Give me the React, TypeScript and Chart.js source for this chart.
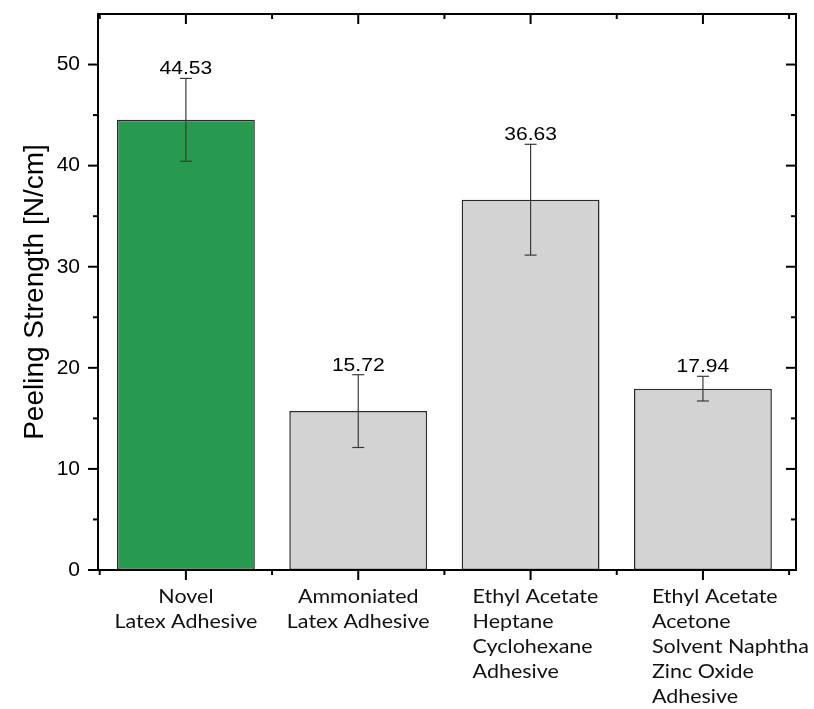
import { useEffect, useRef } from 'react';
import { Chart, registerables } from 'chart.js';

Chart.register(...registerables);

// ---- data ----
const categoryLines: string[][] = [
  ['Novel', 'Latex Adhesive'],
  ['Ammoniated', 'Latex Adhesive'],
  ['Ethyl Acetate', 'Heptane', 'Cyclohexane', 'Adhesive'],
  ['Ethyl Acetate', 'Acetone', 'Solvent Naphtha', 'Zinc Oxide', 'Adhesive'],
];
const categoryPositions = [1, 2, 3, 4];
const peelingStrength = [44.53, 15.72, 36.63, 17.94];
const errorValues = [4.1, 3.6, 5.48, 1.22];
const valueLabels = ['44.53', '15.72', '36.63', '17.94'];
const yTickValues = [0, 10, 20, 30, 40, 50];
const yMinorTickValues = [5, 15, 25, 35, 45];
const xMinorTickValues = [0.5, 1.5, 2.5, 3.5, 4.5];

// ---- styles ----
const barColors = ['#289a4f', '#d3d3d3', '#d3d3d3', '#d3d3d3'];
const labelAnchor: (string | number)[] = ['center', 'center', -58, -51];
const SANS = '"Liberation Sans", Arial, sans-serif';
const LABEL_FONT = '19px Lato, "Noto Sans", sans-serif';
const H_STRETCH_LABEL = 1.13;
const H_STRETCH_VALUE = 1.17;

const line = (ctx: CanvasRenderingContext2D, x1: number, y1: number, x2: number, y2: number) => {
  ctx.beginPath();
  ctx.moveTo(x1, y1);
  ctx.lineTo(x2, y2);
  ctx.stroke();
};

const stretchedText = (
  ctx: CanvasRenderingContext2D,
  text: string,
  x: number,
  y: number,
  sx: number,
  align: CanvasTextAlign
) => {
  ctx.save();
  ctx.translate(x, y);
  ctx.scale(sx, 1);
  ctx.textAlign = align;
  ctx.fillText(text, 0, 0);
  ctx.restore();
};

const errorBarPlugin = {
  id: 'errorBars',
  afterDatasetsDraw(chart: any) {
    const { ctx, scales } = chart;
    const x = scales.x;
    const y = scales.y;
    ctx.save();
    ctx.strokeStyle = '#3a3a3a';
    ctx.lineWidth = 1.2;
    peelingStrength.forEach((v, i) => {
      const px = x.getPixelForValue(categoryPositions[i]);
      const top = y.getPixelForValue(v + errorValues[i]);
      const bot = y.getPixelForValue(v - errorValues[i]);
      line(ctx, px, top, px, bot);
      line(ctx, px - 6, top, px + 6, top);
      line(ctx, px - 6, bot, px + 6, bot);
      ctx.fillStyle = '#000';
      ctx.font = '18px ' + SANS;
      ctx.textBaseline = 'alphabetic';
      stretchedText(ctx, valueLabels[i], px, top - 4, H_STRETCH_VALUE, 'center');
    });
    ctx.restore();
  },
};

const framePlugin = {
  id: 'frame',
  afterDraw(chart: any) {
    const { ctx, chartArea: a, scales } = chart;
    const x = scales.x;
    const y = scales.y;
    ctx.save();
    ctx.strokeStyle = '#000';
    ctx.lineWidth = 2;
    ctx.strokeRect(a.left, a.top, a.right - a.left, a.bottom - a.top);
    yTickValues.forEach((v) => {
      const py = y.getPixelForValue(v);
      line(ctx, a.left - 10, py, a.left, py);
      line(ctx, a.right - 10, py, a.right, py);
    });
    yMinorTickValues.forEach((v) => {
      const py = y.getPixelForValue(v);
      line(ctx, a.left - 5, py, a.left, py);
      line(ctx, a.right - 5, py, a.right, py);
    });
    categoryPositions.forEach((v) => {
      const px = x.getPixelForValue(v);
      line(ctx, px, a.bottom, px, a.bottom + 10);
      line(ctx, px, a.top, px, a.top + 10);
    });
    xMinorTickValues.forEach((v) => {
      const px = x.getPixelForValue(v);
      line(ctx, px, a.bottom, px, a.bottom + 5);
      line(ctx, px, a.top, px, a.top + 5);
    });

    // category labels
    ctx.fillStyle = '#111';
    ctx.font = LABEL_FONT;
    ctx.textBaseline = 'alphabetic';
    categoryLines.forEach((lines, i) => {
      const px = x.getPixelForValue(categoryPositions[i]);
      const anchor = labelAnchor[i];
      lines.forEach((t, j) => {
        const py = a.bottom + 33 + j * 25;
        if (anchor === 'center') {
          stretchedText(ctx, t, px, py, H_STRETCH_LABEL, 'center');
        } else {
          stretchedText(ctx, t, px + (anchor as number), py, H_STRETCH_LABEL, 'left');
        }
      });
    });
    ctx.restore();
  },
};

export default function App() {
  const ref = useRef<HTMLCanvasElement>(null);
  useEffect(() => {
    document.body.style.margin = '0';
    const canvas = ref.current;
    if (!canvas) return;
    const chart = new Chart(canvas, {
      type: 'bar',
      data: {
        datasets: [
          {
            data: peelingStrength.map((v, i) => ({ x: categoryPositions[i], y: v })),
            backgroundColor: barColors,
            borderColor: '#2a2a2a',
            borderWidth: 1.5,
            borderSkipped: false,
            barPercentage: 0.8,
            categoryPercentage: 1,
          },
        ],
      },
      options: {
        responsive: false,
        animation: false,
        layout: { padding: { top: 14, right: 18, left: 0, bottom: 0 } },
        plugins: { legend: { display: false }, tooltip: { enabled: false } },
        scales: {
          x: {
            type: 'linear',
            offset: false,
            min: 0.49,
            max: 4.54,
            grid: { display: false, offset: false },
            border: { display: false },
            ticks: { display: false },
            afterBuildTicks: (s: any) => {
              s.ticks = categoryPositions.map((v) => ({ value: v }));
            },
            afterFit: (s: any) => {
              s.height = 139;
              s.paddingLeft = 0;
              s.paddingRight = 0;
            },
          },
          y: {
            min: 0,
            max: 55,
            grid: { display: false, drawTicks: false },
            border: { display: false },
            afterBuildTicks: (s: any) => {
              s.ticks = yTickValues.map((v) => ({ value: v }));
            },
            afterFit: (s: any) => {
              s.width = 98;
              s.paddingTop = 0;
              s.paddingBottom = 0;
            },
            ticks: {
              color: '#000',
              padding: 18,
              font: { family: SANS, size: 21 },
            },
            title: {
              display: true,
              text: 'Peeling Strength [N/cm]',
              color: '#000',
              font: { family: SANS, size: 28 },
              padding: { top: 18, bottom: 0 },
            },
          },
        },
      },
      plugins: [errorBarPlugin, framePlugin],
    } as any);
    return () => chart.destroy();
  }, []);
  return <canvas ref={ref} width={814} height={709} style={{ display: 'block' }} />;
}
